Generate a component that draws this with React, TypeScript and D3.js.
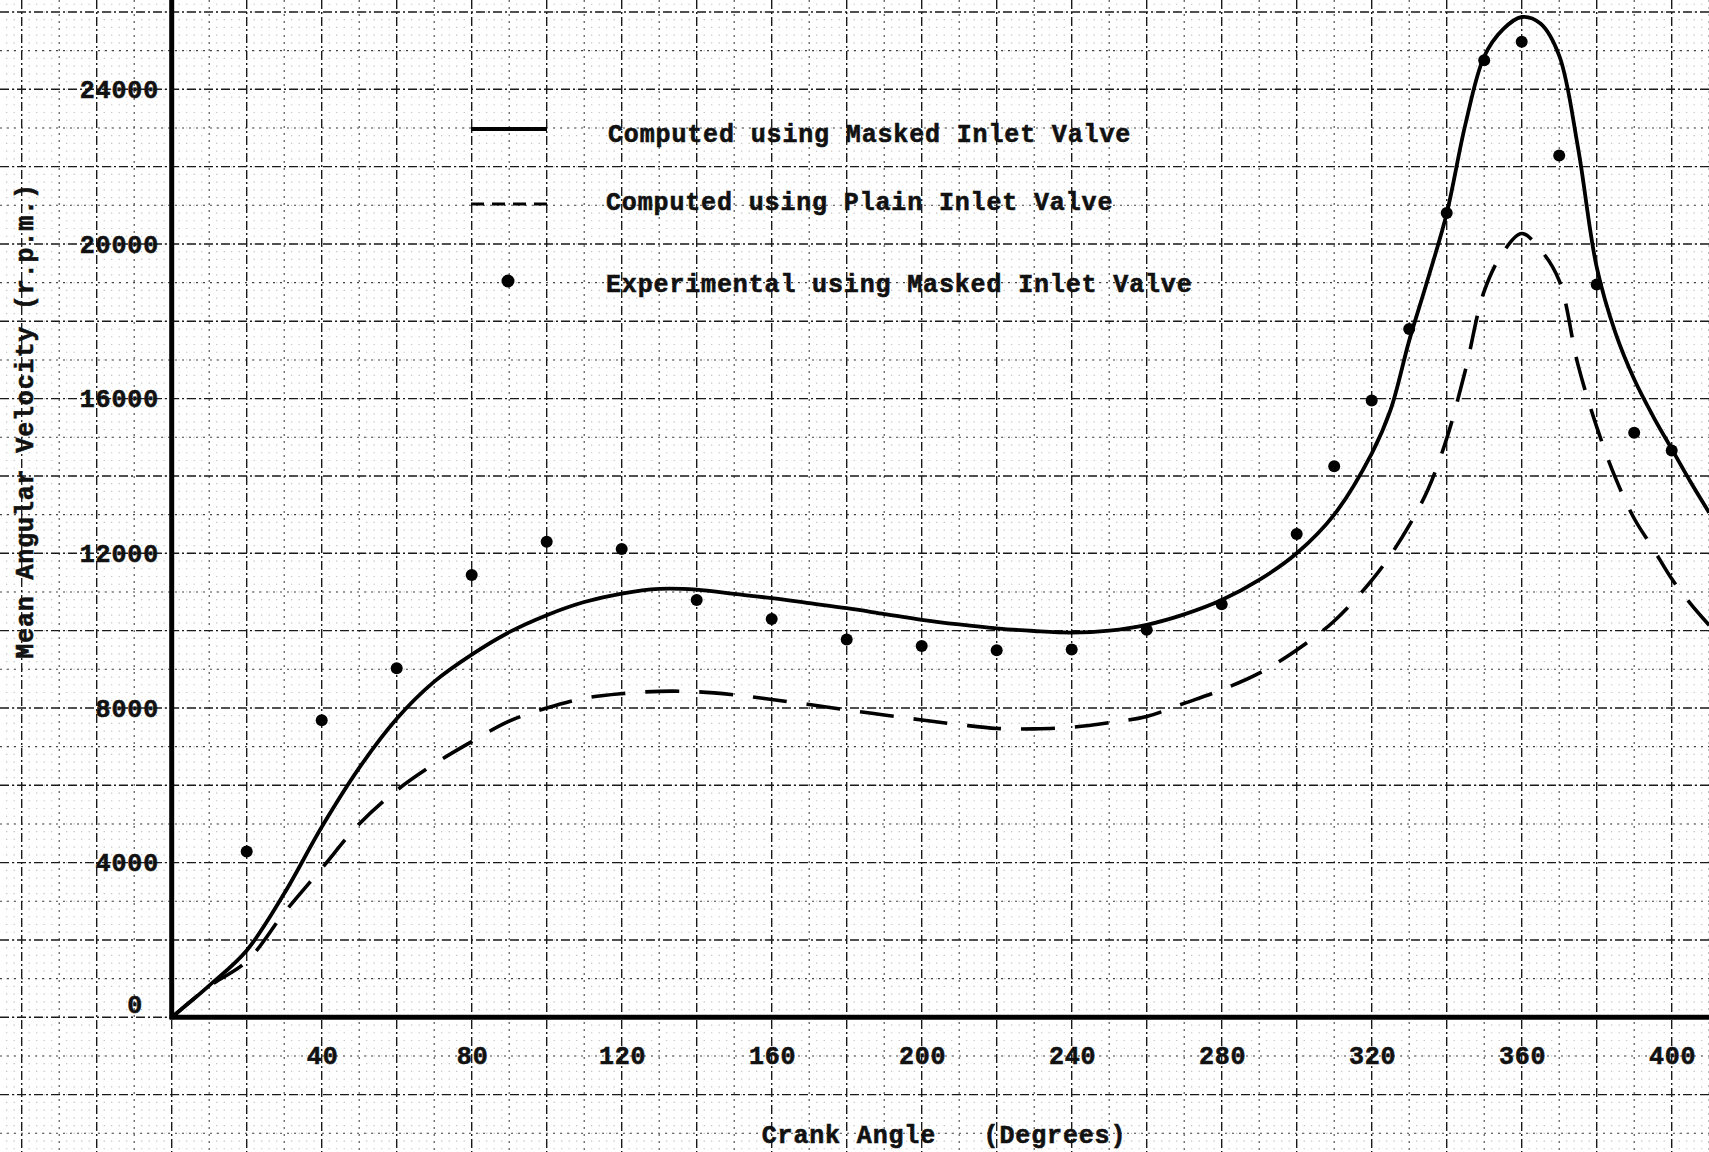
import React from "react";
import * as d3 from "d3";

// ---- data ----
const crankAngles = [
  0, 10, 20, 30, 40, 50, 60, 70, 80, 90, 100, 110, 120, 130, 140, 150, 160, 170, 180, 190, 200,
  210, 220, 230, 240, 250, 260, 270, 280, 290, 300, 310, 320, 325, 330, 335, 340, 345, 350, 355,
  360, 365, 370, 375, 380, 385, 390, 395, 400, 405, 410,
];
const maskedComputed = [
  0, 820, 1730, 3200, 4920, 6450, 7720, 8680, 9380, 9960, 10400, 10740, 10960, 11080, 11060,
  10950, 10840, 10710, 10580, 10430, 10280, 10160, 10060, 9990, 9950, 10000, 10150, 10420, 10790,
  11310, 12000, 13000, 14580, 15700, 17500, 19100, 20790, 23100, 24850, 25550, 25870, 25700,
  24870, 22500, 19400, 17700, 16500, 15550, 14700, 13850, 13050,
];
const plainComputed = [
  0, 800, 1450, 2700, 3850, 5000, 5870, 6550, 7130, 7660, 8000, 8250, 8370, 8430, 8420, 8340,
  8220, 8090, 7950, 7820, 7690, 7570, 7470, 7460, 7500, 7620, 7780, 8120, 8470, 8900, 9500, 10250,
  11300, 11950, 12720, 13650, 14970, 16740, 18780, 19780, 20270, 19850, 19050, 16880, 15270,
  13950, 12900, 12130, 11340, 10700, 10140,
];
const expAngles = [
  20, 40, 60, 80, 100, 120, 140, 160, 180, 200, 220, 240, 260, 280, 300, 310, 320, 330, 340, 350,
  360, 370, 380, 390, 400,
];
const expMasked = [
  4290, 7680, 9030, 11440, 12300, 12110, 10790, 10300, 9770, 9600, 9490, 9510, 10020, 10680,
  12500, 14250, 15950, 17800, 20800, 24750, 25230, 22290, 18950, 15120, 14660,
];
const xTicks = [40, 80, 120, 160, 200, 240, 280, 320, 360, 400];
const yTicks = [0, 4000, 8000, 12000, 16000, 20000, 24000];
const legendLabels = [
  "Computed using Masked Inlet Valve",
  "Computed using Plain Inlet Valve",
  "Experimental using Masked Inlet Valve",
];
const xTitle = "Crank Angle   (Degrees)";
const yTitle = "Mean Angular Velocity (r.p.m.)";

const W = 1709;
const H = 1152;
const FONT = "'Liberation Mono', 'DejaVu Sans Mono', monospace";

export default function App() {
  const x0 = 171.7;
  const y0 = 1017.3;
  const x = d3.scaleLinear().domain([0, 410]).range([x0, x0 + 410 * 3.75]);
  const y = d3.scaleLinear().domain([0, 24000]).range([y0, 89.3]);

  // graph-paper grid values (layout only)
  const vFine = d3.range(-46, 412, 2);
  const hFine = d3.range(-3800, 26600, 200);
  const vMinor = vFine.filter((d) => d % 10 === 0 && d % 20 !== 0);
  const vMajor = vFine.filter((d) => d % 20 === 0);
  const hMinor = hFine.filter((d) => d % 1000 === 0 && d % 2000 !== 0);
  const hMajor = hFine.filter((d) => d % 2000 === 0);

  const line = d3
    .line<number>()
    .x((_, i) => x(crankAngles[i]))
    .y((d) => y(d))
    .curve(d3.curveCatmullRom.alpha(0.5));

  const fineStep = Math.abs(y(200) - y(0));
  const fineOffset = -(y(0) % fineStep);

  const textProps = {
    fontFamily: FONT,
    fontWeight: "bold" as const,
    fontSize: 25,
    fill: "#111",
    stroke: "#111",
    strokeWidth: 0.6,
    letterSpacing: 0.85,
  };

  return (
    <svg
      width={W}
      height={H}
      viewBox={`0 0 ${W} ${H}`}
      style={{ position: "absolute", left: 0, top: 0, display: "block", background: "#fff" }}
    >
      <rect x={0} y={0} width={W} height={H} fill="#fff" />
      {/* fine dotted grid */}
      <g stroke="#777" strokeWidth={1.1} opacity={0.5}>
        {vFine
          .filter((d) => d % 10 !== 0)
          .map((d) => (
            <line
              key={`vf${d}`}
              x1={x(d)}
              x2={x(d)}
              y1={0}
              y2={H}
              strokeDasharray={`1.2 ${fineStep - 1.2}`}
              strokeDashoffset={fineOffset + 0.6}
            />
          ))}
      </g>
      {/* minor grid */}
      <g stroke="#444" strokeWidth={1.1} strokeDasharray="2 5">
        {vMinor.map((d) => (
          <line key={`vm${d}`} x1={x(d)} x2={x(d)} y1={0} y2={H} />
        ))}
        {hMinor.map((d) => (
          <line key={`hm${d}`} x1={0} x2={W} y1={y(d)} y2={y(d)} />
        ))}
      </g>
      {/* major grid */}
      <g stroke="#1a1a1a" strokeWidth={1.4} strokeDasharray="9 3 2 3">
        {vMajor.map((d) => (
          <line key={`vM${d}`} x1={x(d)} x2={x(d)} y1={0} y2={H} />
        ))}
        {hMajor.map((d) => (
          <line key={`hM${d}`} x1={0} x2={W} y1={y(d)} y2={y(d)} />
        ))}
      </g>

      {/* axes */}
      <line x1={x0} x2={x0} y1={0} y2={y0 + 2} stroke="#000" strokeWidth={5} />
      <line x1={x0 - 2} x2={W} y1={y0} y2={y0} stroke="#000" strokeWidth={5} />

      {/* tick labels and titles */}
      <g {...textProps}>
        {yTicks.map((t) => (
          <text
            key={`yt${t}`}
            x={t === 0 ? 143 : 159}
            y={t === 0 ? y(t) - 13 : y(t)}
            dy="0.35em"
            textAnchor="end"
          >
            {t}
          </text>
        ))}
        {xTicks.map((t) => (
          <text key={`xt${t}`} x={x(t) + 1} y={1055} dy="0.35em" textAnchor="middle">
            {t}
          </text>
        ))}
        <text x={944} y={1134} dy="0.35em" textAnchor="middle" style={{ whiteSpace: "pre" }}>
          {xTitle}
        </text>
        <text
          x={0}
          y={0}
          dy="0.35em"
          textAnchor="middle"
          transform={`translate(24,421) rotate(-90)`}
        >
          {yTitle}
        </text>
      </g>

      {/* curves */}
      <path d={line(maskedComputed) || ""} fill="none" stroke="#000" strokeWidth={3.8} />
      <path
        d={line(plainComputed) || ""}
        fill="none"
        stroke="#000"
        strokeWidth={3.6}
        strokeDasharray="34 20"
      />
      {expMasked.map((v, i) => (
        <circle key={`p${i}`} cx={x(expAngles[i])} cy={y(v)} r={6} fill="#000" />
      ))}

      {/* legend */}
      <line x1={471} x2={547} y1={129} y2={129} stroke="#000" strokeWidth={3.8} />
      <line
        x1={471}
        x2={547}
        y1={204}
        y2={204}
        stroke="#000"
        strokeWidth={3}
        strokeDasharray="13 8"
      />
      <circle cx={508} cy={281} r={6.5} fill="#000" />
      <g {...textProps}>
        {legendLabels.map((l, i) => (
          <text key={l} x={[608, 606, 606][i]} y={[133, 201, 283][i]} dy="0.35em">
            {l}
          </text>
        ))}
      </g>
    </svg>
  );
}
